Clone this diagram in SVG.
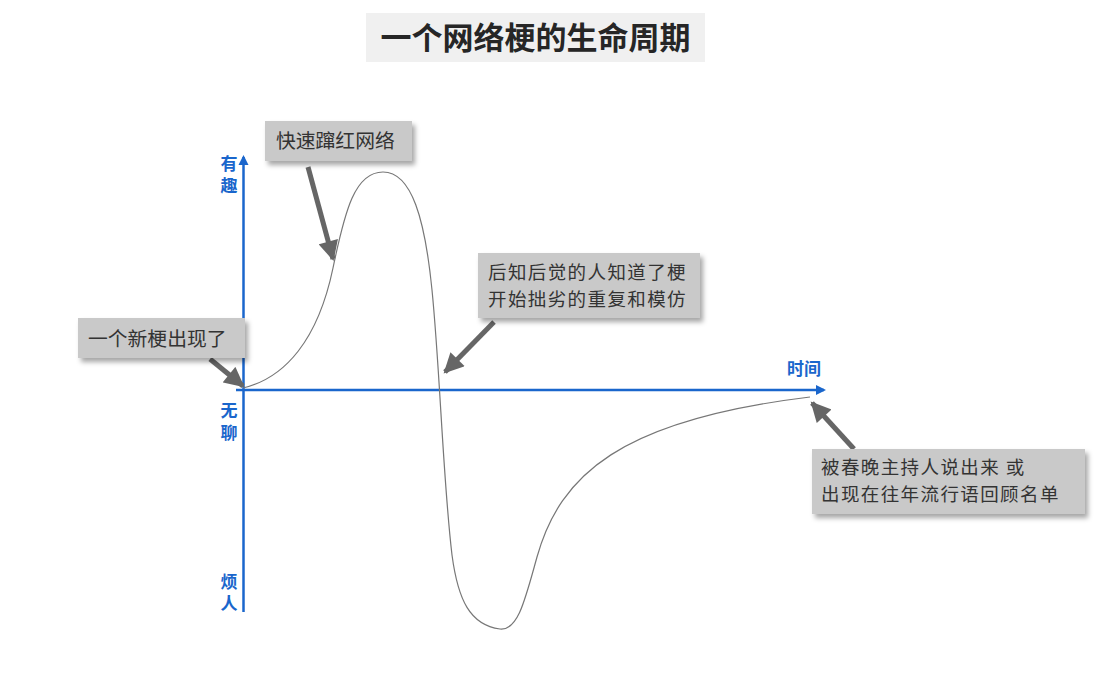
<svg xmlns="http://www.w3.org/2000/svg" width="1101" height="685" viewBox="0 0 1101 685">
  <style>
    .cjk { font-family: "Noto Sans CJK SC", "Noto Sans", sans-serif; }
    .title { font-size: 31px; font-weight: 700; fill: #262626; }
    .note { font-size: 19.8px; fill: #333333; }
    .note2 { font-size: 18.5px; letter-spacing: 1.4px; fill: #333333; }
    .axis-label { font-size: 17px; font-weight: 700; fill: #1a66cc; }
    .vertical { writing-mode: vertical-rl; letter-spacing: 5px; }
    .box { fill: #c9c9c9; filter: url(#shadow); }
    .axis { stroke: #1a66cc; stroke-width: 2.5; fill: none; }
    .pointer { stroke: #666666; stroke-width: 5; fill: none; marker-end: url(#head); }
    .curve { stroke: #777777; stroke-width: 1.2; fill: none; }
  </style>
  <defs>
    <filter id="shadow" x="-10%" y="-20%" width="130%" height="160%">
      <feDropShadow dx="3" dy="4" stdDeviation="2.5" flood-color="#000" flood-opacity="0.35"/>
    </filter>
    <marker id="head" viewBox="0 0 10 10" refX="9" refY="5" markerWidth="4.2" markerHeight="4" orient="auto" markerUnits="strokeWidth">
      <path d="M0,0 L10,5 L0,10 Z" fill="#666666"/>
    </marker>
    <marker id="axisHead" viewBox="0 0 10 10" refX="8" refY="5" markerWidth="4" markerHeight="4.4" orient="auto" markerUnits="strokeWidth">
      <path d="M0,0 L10,5 L0,10 Z" fill="#1a66cc"/>
    </marker>
  </defs>

  <rect width="1101" height="685" fill="#ffffff"/>

  <!-- heading -->
  <g id="title">
    <rect x="366" y="13" width="339" height="49" fill="#f0f0f0"/>
    <text class="cjk title" x="535.5" y="49" text-anchor="middle">一个网络梗的生命周期</text>
  </g>

  <!-- axes -->
  <g id="axes">
    <line class="axis" x1="243.5" y1="612" x2="243.5" y2="157" marker-end="url(#axisHead)"/>
    <line class="axis" x1="236" y1="390" x2="824" y2="390" marker-end="url(#axisHead)"/>
    <text class="cjk axis-label vertical" x="229" y="155">有趣</text>
    <text class="cjk axis-label vertical" x="229" y="402">无聊</text>
    <text class="cjk axis-label vertical" x="229" y="573">烦人</text>
    <text class="cjk axis-label" x="787" y="375">时间</text>
  </g>

  <!-- life-cycle curve -->
  <g id="curve">
    <path class="curve" d="M243,388 C285,378 318,340 333,268 C345,210 355,172 383,172 C412,172 425,220 432,290 C440,370 443,480 452,555 C458,600 470,625 500,629 C518,631 525,600 537,557 C560,475 620,420 810,397"/>
  </g>

  <!-- pointers from notes to the curve -->
  <g id="connectors">
    <line class="pointer" x1="308" y1="167" x2="333" y2="259"/>
    <line class="pointer" x1="210" y1="359" x2="243" y2="386"/>
    <line class="pointer" x1="494" y1="322" x2="445" y2="372"/>
    <line class="pointer" x1="854" y1="449" x2="812" y2="403"/>
  </g>

  <!-- notes -->
  <g id="note-rise">
    <rect class="box" x="265" y="121" width="147" height="40"/>
    <text class="cjk note" x="276" y="148">快速蹿红网络</text>
  </g>
  <g id="note-start">
    <rect class="box" x="78" y="318" width="167" height="40"/>
    <text class="cjk note" x="88" y="346">一个新梗出现了</text>
  </g>
  <g id="note-fall">
    <rect class="box" x="478" y="253" width="222" height="65"/>
    <text class="cjk note2" x="488" y="279"><tspan x="488">后知后觉的人知道了梗</tspan><tspan x="488" dy="27">开始拙劣的重复和模仿</tspan></text>
  </g>
  <g id="note-end">
    <rect class="box" x="812" y="449" width="273" height="65"/>
    <text class="cjk note2" x="821" y="474"><tspan x="821">被春晚主持人说出来 或</tspan><tspan x="821" dy="27">出现在往年流行语回顾名单</tspan></text>
  </g>
</svg>
